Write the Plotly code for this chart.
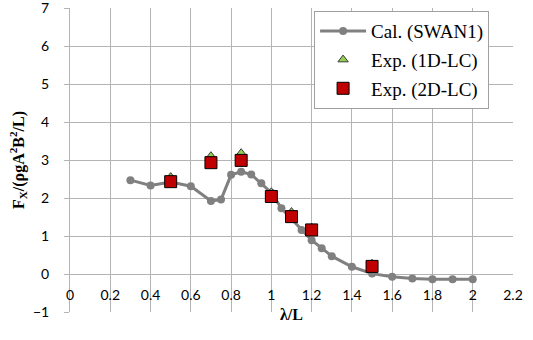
import plotly.graph_objects as go

# Calculated (SWAN1)
cal_x = [0.3, 0.4, 0.5, 0.6, 0.7, 0.75, 0.8, 0.85, 0.9, 0.95, 1.0, 1.05, 1.1, 1.15, 1.2, 1.25, 1.3, 1.4, 1.5, 1.6, 1.7, 1.8, 1.9, 2.0]
cal_y = [2.47, 2.33, 2.42, 2.31, 1.92, 1.96, 2.61, 2.69, 2.62, 2.39, 2.14, 1.73, 1.45, 1.16, 0.89, 0.68, 0.47, 0.19, 0.01, -0.07, -0.12, -0.14, -0.14, -0.14]

# Experiments
exp_x = [0.5, 0.7, 0.85, 1.0, 1.1, 1.2, 1.5]
exp1d_y = [2.55, 3.10, 3.18, 2.15, 1.63, 1.22, 0.27]
exp2d_y = [2.43, 2.93, 2.99, 2.04, 1.51, 1.16, 0.20]

x_ticks = [0, 0.2, 0.4, 0.6, 0.8, 1.0, 1.2, 1.4, 1.6, 1.8, 2.0, 2.2]
x_tick_text = ["0", "0.2", "0.4", "0.6", "0.8", "1", "1.2", "1.4", "1.6", "1.8", "2", "2.2"]
y_ticks = [-1, 0, 1, 2, 3, 4, 5, 6, 7]

fig = go.Figure()
fig.add_trace(go.Scatter(
    x=cal_x, y=cal_y, mode="lines+markers", name="Cal. (SWAN1)",
    legendgroup="a",
    line=dict(color="#808080", width=3),
    marker=dict(color="#808080", size=8),
))
fig.add_trace(go.Scatter(
    x=exp_x, y=exp1d_y, mode="markers", name="Exp. (1D-LC)",
    legendgroup="b",
    marker=dict(symbol="triangle-up", color="#92d050", size=9,
                line=dict(color="#3a3a3a", width=1)),
))
fig.add_trace(go.Scatter(
    x=exp_x, y=exp2d_y, mode="markers", name="Exp. (2D-LC)",
    legendgroup="c",
    marker=dict(symbol="square", color="#c00000", size=12,
                line=dict(color="#000000", width=1)),
))

grid = "#b4b4b4"
tickfont = dict(family="Lato, Open Sans, sans-serif", size=14, color="#000000")
serif = "Liberation Serif, Times New Roman, serif"

fig.update_layout(
    width=533, height=340,
    margin=dict(l=70, r=20, t=8, b=28, autoexpand=False),
    paper_bgcolor="white", plot_bgcolor="white",
    showlegend=True,
    legend=dict(
        x=0.551, y=0.99, xanchor="left", yanchor="top",
        bgcolor="white", bordercolor="#a0a0a0", borderwidth=1,
        font=dict(family=serif, size=19, color="#000000"),
        tracegroupgap=1, itemwidth=46, entrywidth=150,
    ),
    xaxis=dict(
        range=[0, 2.2], tickvals=x_ticks, ticktext=x_tick_text,
        showgrid=True, gridcolor=grid, gridwidth=1,
        zeroline=False, showline=False, automargin=False,
        anchor="free", position=0.125, ticklabeloverflow="allow",
        ticks="", tickfont=tickfont, ticklabelstandoff=11,
        title=dict(text="<b>λ/L</b>", font=dict(family=serif, size=16, color="#000000"), standoff=6),
    ),
    yaxis=dict(
        range=[-1, 7], tickvals=y_ticks, automargin=False,
        showgrid=True, gridcolor=grid, gridwidth=1,
        zeroline=False, showline=True, linecolor=grid, linewidth=1,
        ticks="outside", ticklen=5, tickcolor=grid, ticklabeloverflow="allow",
        tickfont=tickfont, ticklabelstandoff=12,
        title=dict(text="<b>F<sub>X</sub>/(ρgA<sup>2</sup>B<sup>2</sup>/L)</b>",
                   font=dict(family=serif, size=16, color="#000000"), standoff=4),
    ),
)

fig.write_html("out.html", config={"displayModeBar": False},
               post_script="document.body.style.margin='0';")
